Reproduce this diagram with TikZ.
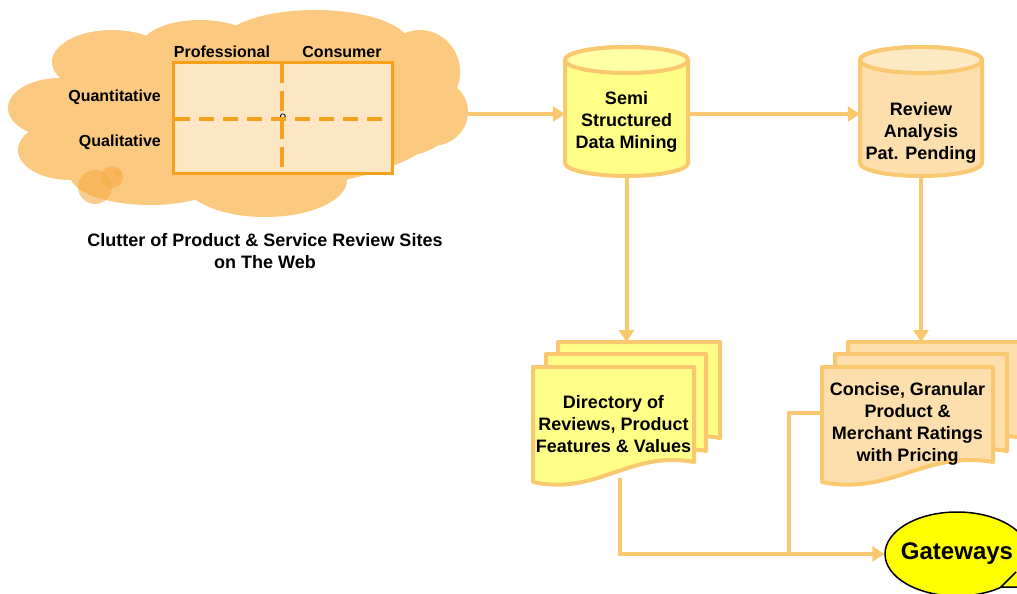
\documentclass[tikz,border=0pt]{standalone}
\usepackage{fontspec}
\setmainfont{Liberation Sans}
\usetikzlibrary{arrows.meta,shapes.geometric}
\definecolor{cloudC}{RGB}{251,201,127}
\definecolor{bubbleC}{RGB}{246,172,70}
\definecolor{rectC}{RGB}{247,160,28}
\definecolor{rectF}{RGB}{253,230,196}
\definecolor{connC}{RGB}{250,200,110}
\definecolor{yelC}{RGB}{255,255,136}
\definecolor{yelTop}{RGB}{255,255,165}
\definecolor{peachC}{RGB}{252,223,172}
\definecolor{peachTop}{RGB}{253,233,195}
\definecolor{gwC}{RGB}{255,255,0}
\newcommand\docsheet[5]{%
  \filldraw[shp, fill=#1] (#2,#3) -- (#4,#3) -- ({#4},{#5-20})
    .. controls ({#2+0.6*(#4-#2)},{#5-32}) and ({#2+0.4*(#4-#2)},{#5+14}) .. (#2,#5) -- cycle;}
\newcommand\cylshape[6]{% fill, topfill, L, R, ytop, ybot
  \filldraw[shp, fill=#1] (#3,#5) -- (#3,#6)
    arc[start angle=180, end angle=0, x radius={(#4-#3)/2}, y radius=13] -- (#4,#5)
    arc[start angle=0, end angle=-180, x radius={(#4-#3)/2}, y radius=13] -- cycle;
  \filldraw[shp, fill=#2] ({(#3+#4)/2},#5) ellipse[x radius={(#4-#3)/2}, y radius=13];}
\begin{document}
\begin{tikzpicture}[x=1pt,y=-1pt,
  big/.style={font=\fontsize{18}{21.8}\selectfont\bfseries, align=center, inner sep=0pt},
  small/.style={font=\fontsize{16}{19}\selectfont\bfseries, inner sep=0pt},
  conn/.style={draw=connC, line width=4pt, -{Triangle[length=12pt,width=15pt]}},
  plainconn/.style={draw=connC, line width=4pt},
  shp/.style={draw=connC, line width=4pt, line join=round}]
\useasboundingbox (0,0) rectangle (1017,594);
\clip (0,0) rectangle (1017,594);
\fill[white] (0,0) rectangle (1017,594);
% cloud
\begin{scope}[fill=cloudC]
\fill (60,108) ellipse[x radius=52, y radius=30];
\fill (112,62) ellipse[x radius=60, y radius=32];
\fill (70,150) ellipse[x radius=52, y radius=30];
\fill (150,175) ellipse[x radius=80, y radius=30];
\fill (200,48) ellipse[x radius=60, y radius=28];
\fill (315,45) ellipse[x radius=95, y radius=35];
\fill (420,72) ellipse[x radius=40, y radius=42];
\fill (432,112) ellipse[x radius=36, y radius=34];
\fill (400,132) ellipse[x radius=45, y radius=24];
\fill (265,180) ellipse[x radius=82, y radius=37];
\fill (240,118) ellipse[x radius=205, y radius=72];
\end{scope}
\fill[bubbleC, opacity=0.6] (95,187) circle[radius=17];
\fill[bubbleC, opacity=0.6] (112,177) circle[radius=11];
\fill[bubbleC, opacity=0.5] (117,173) circle[radius=4];
% grid
\filldraw[draw=rectC, fill=rectF, line width=3pt] (173,63) rectangle (392,173);
\node[font=\fontsize{12}{12}\selectfont, inner sep=0pt] (ctr) at (283,117) {o};
\draw[rectC, line width=4pt, dash pattern=on 15pt off 9pt] (175,119) -- (392,119);
\draw[rectC, line width=4pt, dash pattern=on 20pt off 8pt] (282,63) -- (282,173);
\node[small] (prof) at (222,52) {Professional};
\node[small] (cons) at (342,52) {Consumer};
\node[small, anchor=east] (quant) at (161,97) {Quantitative};
\node[small, anchor=east] (qual) at (161,142) {Qualitative};
\node[big] (caption) at (265,251) {Clutter of Product \& Service Review Sites\\on The Web};
\coordinate (cloudR) at (468,114);
% cylinders
\cylshape{yelC}{yelTop}{565}{688}{60}{163}
\cylshape{peachC}{peachTop}{860}{982}{60}{163}
\node[big, minimum width=123, minimum height=108] (cyl1) at (626.5,122) {Semi\\Structured\\Data Mining};
\node[big, minimum width=122, minimum height=86] (cyl2) at (921,133) {Review\\Analysis\\Pat. Pending};
% documents
\docsheet{yelC}{558}{342}{720}{458}
\docsheet{yelC}{546}{354}{706}{471}
\docsheet{yelC}{533}{367}{694}{482}
\docsheet{peachC}{848}{342}{1024}{458}
\docsheet{peachC}{835}{354}{1007}{471}
\docsheet{peachC}{822}{367}{993}{482}
\coordinate (d1top) at (626.5,342);
\coordinate (d2top) at (921,342);
\node[big, minimum width=161, minimum height=108] (doc1) at (613.5,424) {Directory of\\Reviews, Product\\Features \& Values};
\node[big, minimum width=171, minimum height=108] (doc2) at (907.5,424) {Concise, Granular\\Product \&\\Merchant Ratings\\with Pricing};
% gateways
\node[ellipse, draw=black, line width=1.5pt, fill=gwC, minimum width=144, minimum height=84,
  font=\fontsize{24}{28}\selectfont\bfseries, inner xsep=-8pt, inner ysep=0pt] (gw) at (957,554) {Gateways};
\filldraw[draw=black, line width=1.5pt, fill=gwC, line join=miter] (1016,572) -- (1001,587) -- (1040,587);
\coordinate (joint) at (789,554);
% connectors
\draw[conn] (cloudR) -- (cloudR -| cyl1.west);
\draw[conn] (cloudR -| cyl1.east) -- (cloudR -| cyl2.west);
\draw[conn] (cyl1.south) -- (d1top);
\draw[conn] (cyl2.south) -- (d2top);
\draw[conn] ([xshift=6pt]doc1.south) |- (gw.west);
\draw[plainconn] ([yshift=11pt]doc2.west) -| (joint);
\end{tikzpicture}
\end{document}
